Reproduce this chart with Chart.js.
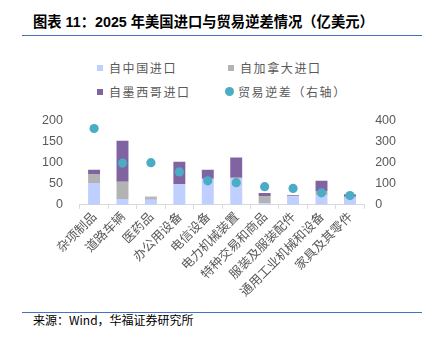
<!DOCTYPE html>
<html>
<head>
<meta charset="utf-8">
<script src="https://cdn.jsdelivr.net/npm/chart.js@4"></script>
<style>
  body { margin: 0; background: #fff; }
  #wrap { position: relative; width: 428px; height: 340px; overflow: hidden; font-family: "Noto Sans CJK SC", sans-serif; }
  #title { position: absolute; left: 33px; top: 10px; font-size: 14.3px; font-weight: bold; color: #000; white-space: nowrap; font-family: "Liberation Sans", "Noto Sans CJK SC", sans-serif; }
  .rule { position: absolute; left: 22px; width: 400px; height: 0; border-top: 1.5px solid #4472c4; }
  #legend { position: absolute; left: 0; top: 0; width: 428px; font-size: 12px; color: #595959; letter-spacing: 1.6px; }
  .item { position: absolute; display: flex; align-items: center; white-space: nowrap; }
  .box { width: 6px; height: 6px; margin-right: 6px; }
  .dot { width: 9px; height: 9px; border-radius: 50%; margin-right: 4px; }
  #source { position: absolute; left: 33px; top: 311px; font-size: 12px; color: #000; white-space: nowrap; }
  #chartBox { position: absolute; left: 0; top: 96px; width: 428px; height: 205px; }
</style>
</head>
<body>
<div id="wrap">
  <div id="title">图表 11：2025 年美国进口与贸易逆差情况（亿美元）</div>
  <div class="rule" style="top:35px"></div>
  <div id="legend"></div>
  <div id="chartBox"><canvas id="tradeChart"></canvas></div>
  <div class="rule" style="top:312px"></div>
  <div id="source">来源：Wind，华福证券研究所</div>
</div>
<script>
// categories and values (亿美元)
const categories = [
  "杂项制品",
  "道路车辆",
  "医药品",
  "办公用设备",
  "电信设备",
  "电力机械装置",
  "特种交易和商品",
  "服装及服装配件",
  "通用工业机械和设备",
  "家具及其零件",
];
const fromChina = [52, 14, 12, 48, 61, 62, 4, 20, 22, 17];
const fromCanada = [21, 41, 6, 1, 1, 2, 17, 1, 11, 2];
const fromMexico = [10, 97, 1, 53, 21, 48, 7, 2, 24, 6];
const tradeDeficit = [362, 198, 200, 156, 114, 105, 86, 78, 57, 44];

const leftTicks = [0, 50, 100, 150, 200];
const rightTicks = [0, 100, 200, 300, 400];

const colors = {
  china: "#bfcfff",
  canada: "#b3b3b3",
  mexico: "#8064a2",
  deficit: "#4bacc6",
  text: "#595959",
  axis: "#d9d9d9",
};

// legend (html, two rows)
const legendItems = [
  { text: "自中国进口", color: colors.china, left: 97, top: 59, cls: "box" },
  { text: "自加拿大进口", color: colors.canada, left: 228, top: 59, cls: "box" },
  { text: "自墨西哥进口", color: colors.mexico, left: 97, top: 83, cls: "box" },
  { text: "贸易逆差（右轴）", color: colors.deficit, left: 225, top: 83, cls: "dot" },
];
const legend = document.getElementById("legend");
legendItems.forEach((it) => {
  const el = document.createElement("div");
  el.className = "item";
  el.style.left = it.left + "px";
  el.style.top = it.top + "px";
  el.innerHTML = '<span class="' + it.cls + '" style="background:' + it.color + '"></span>' + it.text;
  legend.appendChild(el);
});

const ctx = document.getElementById("tradeChart").getContext("2d");

const barStyle = { stack: "s", order: 1, barPercentage: 0.42, categoryPercentage: 1 };

new Chart(ctx, {
  data: {
    labels: categories,
    datasets: [
      {
        type: "line",
        label: "贸易逆差（右轴）",
        data: tradeDeficit,
        yAxisID: "y1",
        showLine: false,
        pointRadius: 4.6,
        pointBackgroundColor: colors.deficit,
        pointBorderWidth: 0,
        order: 0,
      },
      { type: "bar", label: "自中国进口", data: fromChina, backgroundColor: colors.china, ...barStyle },
      { type: "bar", label: "自加拿大进口", data: fromCanada, backgroundColor: colors.canada, ...barStyle },
      { type: "bar", label: "自墨西哥进口", data: fromMexico, backgroundColor: colors.mexico, ...barStyle },
    ],
  },
  options: {
    responsive: true,
    maintainAspectRatio: false,
    animation: false,
    layout: { padding: { left: 25, right: 21, top: 14, bottom: 2 } },
    plugins: {
      legend: { display: false },
      tooltip: { enabled: false },
    },
    scales: {
      x: {
        stacked: true,
        offset: true,
        grid: {
          offset: true,
          drawOnChartArea: false,
          color: colors.axis,
          tickLength: 4,
        },
        border: { color: colors.axis, width: 1 },
        ticks: {
          color: colors.text,
          font: { family: "Noto Sans CJK SC", size: 12.5 },
          maxRotation: 45,
          minRotation: 45,
          padding: 0,
          autoSkip: false,
        },
      },
      y: {
        stacked: true,
        position: "left",
        min: 0,
        max: 200,
        afterBuildTicks: (axis) => {
          axis.ticks = leftTicks.map((v) => ({ value: v }));
        },
        grid: { display: false, drawTicks: false },
        border: { display: false },
        ticks: {
          color: colors.text,
          font: { family: "Liberation Sans", size: 12.5 },
          padding: 17,
        },
      },
      y1: {
        position: "right",
        min: 0,
        max: 400,
        afterBuildTicks: (axis) => {
          axis.ticks = rightTicks.map((v) => ({ value: v }));
        },
        grid: { display: false, drawTicks: false },
        border: { display: false },
        ticks: {
          color: colors.text,
          font: { family: "Liberation Sans", size: 12.5 },
          padding: 11,
        },
      },
    },
  },
});
</script>
</body>
</html>
